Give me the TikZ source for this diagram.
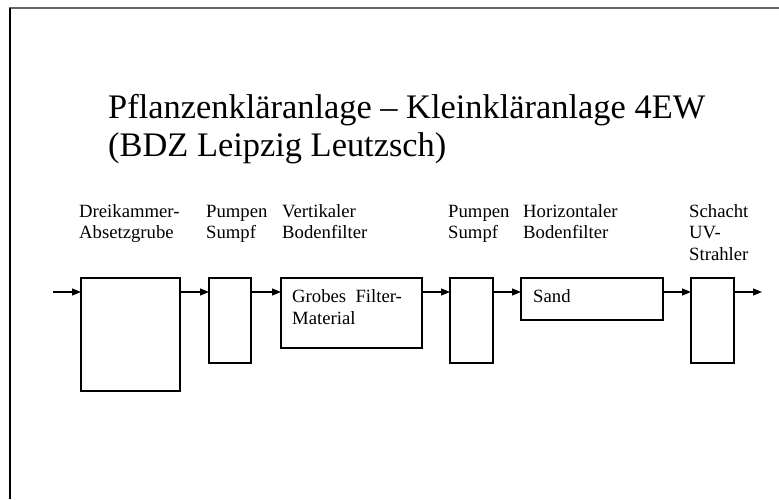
\documentclass[tikz,border=0pt]{standalone}
\usepackage{fontspec}
\setmainfont{Liberation Serif}
\usetikzlibrary{arrows.meta}
\begin{document}
\begin{tikzpicture}[x=1pt,y=-1pt,
  stage/.style={draw,line width=1.1pt,inner sep=0pt,outer sep=0pt,anchor=north west},
  label/.style={anchor=base west,inner sep=0pt,align=left,font=\fontsize{18.7}{21.5}\selectfont},
  flow/.style={line width=1.2pt,-{Triangle[length=9pt,width=7pt]}},
  frameline/.style={line width=1.6pt}]
\useasboundingbox (0,0) rectangle (779,499);
% slide frame
\draw[frameline,gray!80!black] (9.2,8) -- (779,8);
\draw[frameline,black] (10,8) -- (10,499);
% title (base anchor sits on the last line)
\node[anchor=base west,inner sep=0pt,align=left,font=\fontsize{34.4}{38}\selectfont]
  (title) at (108,156) {Pflanzenkläranlage – Kleinkläranlage 4EW\\(BDZ Leipzig Leutzsch)};
% stage captions
\node[label] (l1) at (79,238.5) {Dreikammer-\\Absetzgrube};
\node[label] (l2) at (206,238.5) {Pumpen\\Sumpf};
\node[label] (l3) at (282,238.5) {Vertikaler\\Bodenfilter};
\node[label] (l4) at (448,238.5) {Pumpen\\Sumpf};
\node[label] (l5) at (523,238.5) {Horizontaler\\Bodenfilter};
\node[label] (l6) at (689,260) {Schacht\\UV-\\Strahler};
% treatment stages
\node[stage,minimum width=99pt,minimum height=113pt] (b1) at (81,278) {};
\node[stage,minimum width=42pt,minimum height=85pt] (b2) at (209,278) {};
\node[stage,minimum width=141pt,minimum height=70pt] (b3) at (281,278) {};
\node[stage,minimum width=43pt,minimum height=85pt] (b4) at (450,278) {};
\node[stage,minimum width=142pt,minimum height=42pt] (b5) at (521,278) {};
\node[stage,minimum width=43pt,minimum height=85pt] (b6) at (691,278) {};
% fillings
\node[label] (t3) at (292,324) {Grobes\ \ Filter-\\Material};
\node[label] (t5) at (533,302) {Sand};
% flow
\coordinate (in) at (53,292);
\coordinate (out) at (762,292);
\draw[flow] (in) -- ([yshift=-14pt]b1.north west);
\draw[flow] ([yshift=-14pt]b1.north east) -- ([yshift=-14pt]b2.north west);
\draw[flow] ([yshift=-14pt]b2.north east) -- ([yshift=-14pt]b3.north west);
\draw[flow] ([yshift=-14pt]b3.north east) -- ([yshift=-14pt]b4.north west);
\draw[flow] ([yshift=-14pt]b4.north east) -- ([yshift=-14pt]b5.north west);
\draw[flow] ([yshift=-14pt]b5.north east) -- ([yshift=-14pt]b6.north west);
\draw[flow] ([yshift=-14pt]b6.north east) -- (out);
\end{tikzpicture}
\end{document}
